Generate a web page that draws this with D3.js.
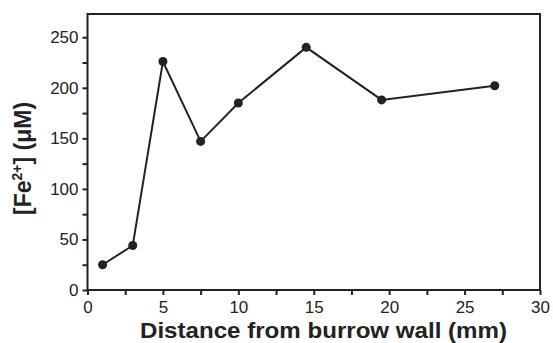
<!DOCTYPE html>
<html lang="en">
<head>
<meta charset="UTF-8">
<script src="https://d3js.org/d3.v7.min.js"></script>
<style>
  body { margin: 0; background: #fff; }
  text { font-family: "Liberation Sans", Arial, sans-serif; fill: #222; }
</style>
</head>
<body>
<div id="chart"></div>
<script>
const distance = [1, 3, 5, 7.5, 10, 14.5, 19.5, 27];
const fe = [25, 44, 226, 147, 185, 240, 188, 202];
const xTicks = [0, 5, 10, 15, 20, 25, 30];
const yTicks = [0, 50, 100, 150, 200, 250];

const width = 553, height = 343;
const margin = {left: 87.5, right: 13, top: 14, bottom: 53};

const svg = d3.select("#chart").append("svg")
    .attr("width", width)
    .attr("height", height);

const x = d3.scaleLinear().domain([0, 30]).range([margin.left, width - margin.right]);
const y = d3.scaleLinear().domain([0, 273]).range([height - margin.bottom, margin.top]);

// frame
svg.append("rect")
    .attr("x", x(0)).attr("y", y(273))
    .attr("width", x(30) - x(0)).attr("height", y(0) - y(273))
    .attr("fill", "none").attr("stroke", "#222").attr("stroke-width", 2);

// x axis
const xAxis = svg.append("g").attr("transform", `translate(0,${y(0)})`)
    .call(d3.axisBottom(x).tickValues(d3.range(0, 30.1, 2.5)).tickSize(5).tickFormat(d => xTicks.includes(d) ? d : ""));
xAxis.select(".domain").remove();
xAxis.selectAll("line").attr("stroke", "#222").attr("stroke-width", 2);
xAxis.selectAll("text").attr("font-size", 17).attr("dy", null).attr("y", 23);

// y axis
const yAxis = svg.append("g").attr("transform", `translate(${x(0)},0)`)
    .call(d3.axisLeft(y).tickValues(d3.range(0, 251, 25)).tickSize(5).tickFormat(d => yTicks.includes(d) ? d : ""));
yAxis.select(".domain").remove();
yAxis.selectAll("line").attr("stroke", "#222").attr("stroke-width", 2);
yAxis.selectAll("text").attr("font-size", 17).attr("x", -9);

// labels
svg.append("text")
    .attr("x", 323.5).attr("y", 338)
    .attr("text-anchor", "middle")
    .attr("font-size", 22).attr("font-weight", "bold")
    .attr("textLength", 367).attr("lengthAdjust", "spacingAndGlyphs")
    .text("Distance from burrow wall (mm)");

const yl = svg.append("text")
    .attr("transform", `translate(31,158.5) rotate(-90)`)
    .attr("text-anchor", "middle")
    .attr("font-size", 23).attr("font-weight", "bold");
yl.append("tspan").text("[Fe");
yl.append("tspan").attr("font-size", 14).attr("dy", -9).text("2+");
yl.append("tspan").attr("dy", 9).text("] (\u03bcM)");

// data
const pts = distance.map((d, i) => [d, fe[i]]);
svg.append("path")
    .datum(pts)
    .attr("fill", "none").attr("stroke", "#222").attr("stroke-width", 2)
    .attr("d", d3.line().x(d => x(d[0])).y(d => y(d[1])));

svg.selectAll("circle.pt").data(pts).enter().append("circle")
    .attr("class", "pt")
    .attr("cx", d => x(d[0])).attr("cy", d => y(d[1]))
    .attr("r", 4.5).attr("fill", "#222");
</script>
</body>
</html>
